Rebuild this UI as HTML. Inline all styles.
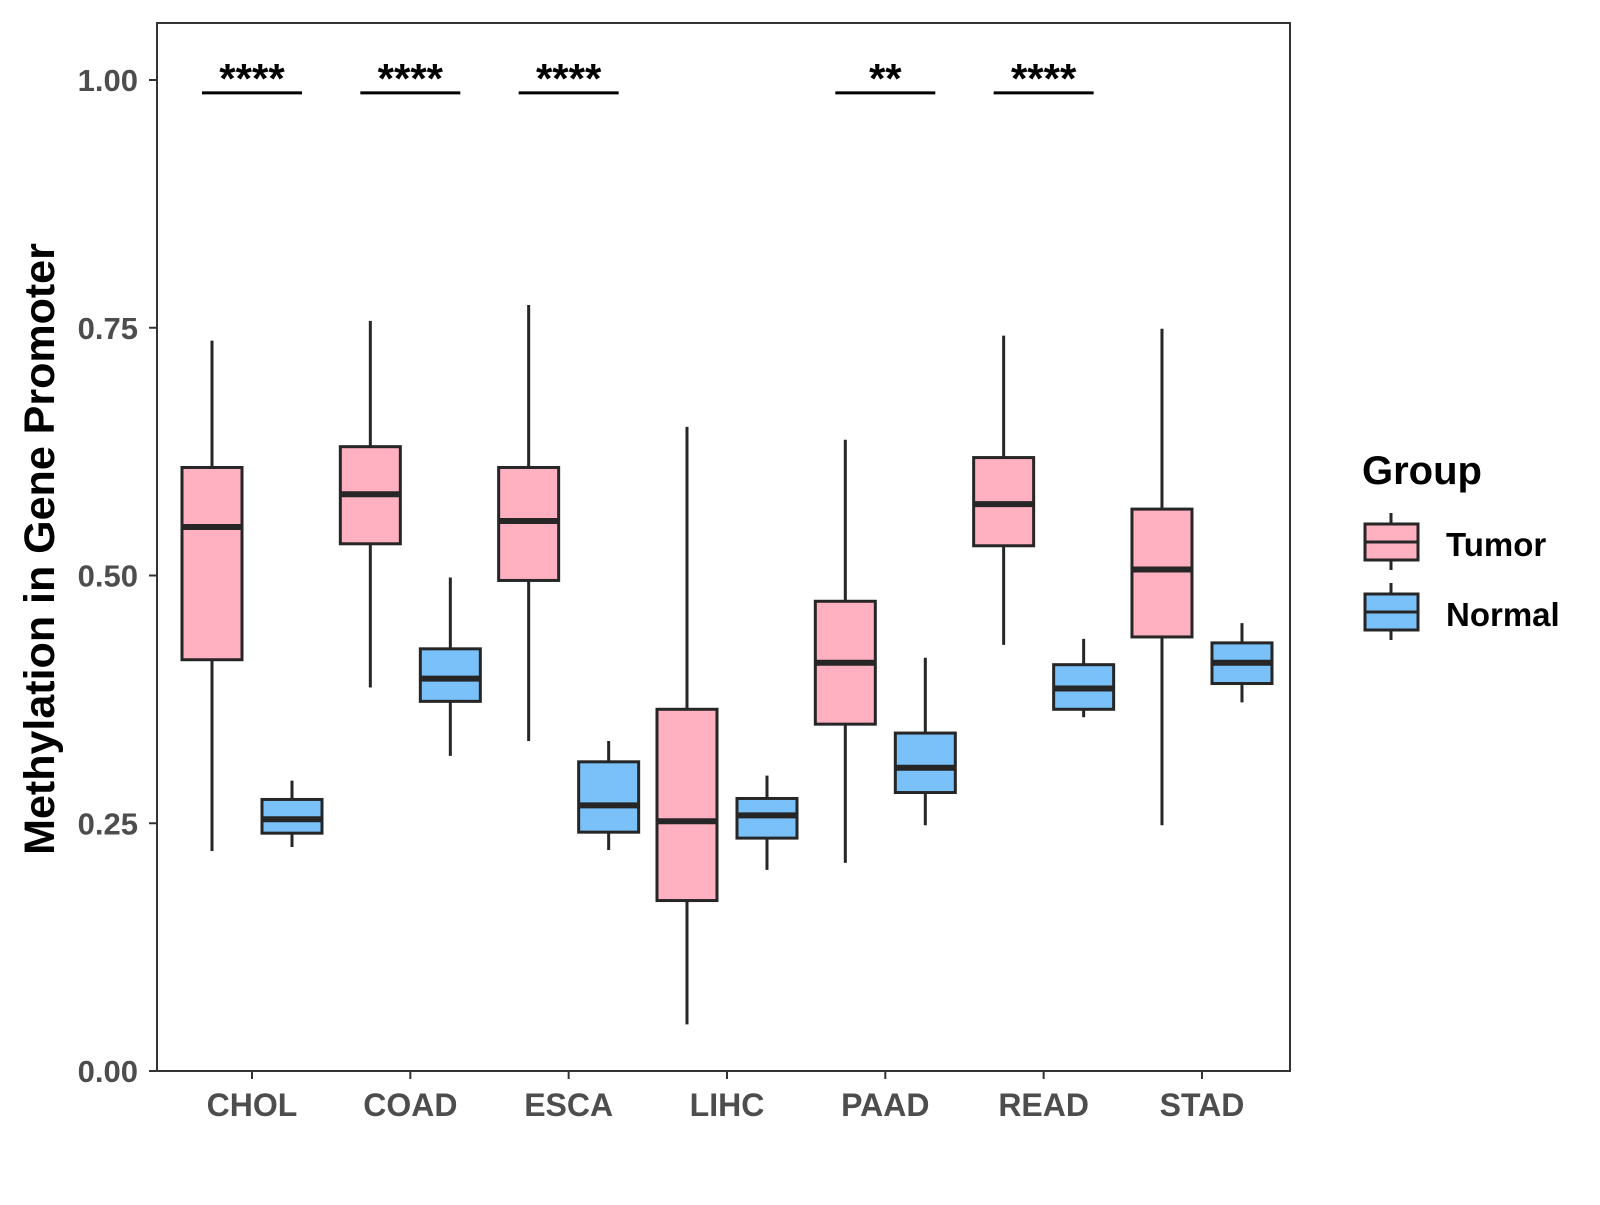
<!DOCTYPE html>
<html><head><meta charset="utf-8"><style>
body{margin:0;background:#fff}
svg text{font-family:"Liberation Sans",Arial,sans-serif;font-weight:bold}
</style></head><body>
<svg id="chart" width="1600" height="1200" xmlns="http://www.w3.org/2000/svg">
<rect x="157" y="23" width="1133" height="1048" fill="#fff" stroke="#333" stroke-width="2"/>
<g id="marks"></g>
<text x="0" y="0" transform="translate(54,549) rotate(-90)" text-anchor="middle" font-size="43" fill="#000">Methylation in Gene Promoter</text>
<g>
<text x="1362" y="484" font-size="40" fill="#000">Group</text>
<g>
<line x1="1391" y1="513" x2="1391" y2="570" stroke="#262626" stroke-width="3"/>
<rect x="1365" y="524" width="53" height="36" fill="#FFB0C1" stroke="#262626" stroke-width="3"/>
<line x1="1365" y1="542" x2="1418" y2="542" stroke="#262626" stroke-width="3"/>
<text x="1446" y="556" font-size="33" fill="#000">Tumor</text></g>
<g>
<line x1="1391" y1="583" x2="1391" y2="640" stroke="#262626" stroke-width="3"/>
<rect x="1365" y="594" width="53" height="36" fill="#79C1F8" stroke="#262626" stroke-width="3"/>
<line x1="1365" y1="612" x2="1418" y2="612" stroke="#262626" stroke-width="3"/>
<text x="1446" y="626" font-size="33" fill="#000">Normal</text></g>
</g>
</svg>
<script>
const categories=["CHOL","COAD","ESCA","LIHC","PAAD","READ","STAD"];
// [lowWhisker, q1, median, q3, highWhisker]
const tumorStats=[[0.222,0.415,0.549,0.609,0.737],[0.387,0.532,0.582,0.630,0.757],[0.333,0.495,0.555,0.609,0.773],[0.047,0.172,0.252,0.365,0.650],[0.210,0.350,0.412,0.474,0.637],[0.430,0.530,0.572,0.619,0.742],[0.248,0.438,0.506,0.567,0.749]];
const normalStats=[[0.226,0.240,0.254,0.274,0.293],[0.318,0.373,0.396,0.426,0.498],[0.223,0.241,0.268,0.312,0.333],[0.203,0.235,0.258,0.275,0.298],[0.248,0.281,0.306,0.341,0.417],[0.357,0.365,0.386,0.410,0.436],[0.372,0.391,0.412,0.432,0.452]];
const signif=["****","****","****","","**","****",""];
const yTicks=[0,0.25,0.5,0.75,1.0];
const yTickLabels=["0.00","0.25","0.50","0.75","1.00"];
const sigLevel=0.987;
const NS="http://www.w3.org/2000/svg";
const g=document.getElementById('marks');
const y=v=>1071-v*991;
const x=i=>252+i*158.33;
function mk(t,a,txt){const e=document.createElementNS(NS,t);for(const k in a)e.setAttribute(k,a[k]);if(txt!==undefined)e.textContent=txt;g.appendChild(e);return e;}
yTicks.forEach((v,i)=>{
 const t=mk('line',{x1:149,x2:157,y1:y(v),y2:y(v),stroke:'#333','stroke-width':2});
 
 
 const l=mk('text',{x:138,y:y(v)+11,'text-anchor':'end','font-size':31,fill:'#4d4d4d'},yTickLabels[i]);
 
 
});
function box(cx,s,fill,name){
 const w=mk('line',{x1:cx,x2:cx,y1:y(s[0]),y2:y(s[4]),stroke:'#262626','stroke-width':3});
 
 
 const r=mk('rect',{x:cx-30,width:60,y:y(s[3]),height:y(s[1])-y(s[3]),fill:fill,stroke:'#262626','stroke-width':3});
 
 
 const m=mk('line',{x1:cx-30,x2:cx+30,y1:y(s[2]),y2:y(s[2]),stroke:'#262626','stroke-width':6});
 
 
}
categories.forEach((c,i)=>{
 const cx=x(i);
 box(cx-40,tumorStats[i],'#FFB0C1','tumor-'+c.toLowerCase());
 box(cx+40,normalStats[i],'#79C1F8','normal-'+c.toLowerCase());
 const t=mk('line',{x1:cx,x2:cx,y1:1071,y2:1079,stroke:'#333','stroke-width':2});
 
 
 const l=mk('text',{x:cx,y:1116,'text-anchor':'middle','font-size':32,fill:'#4d4d4d'},c);
 
 
 if(signif[i]){
  const b=mk('line',{x1:cx-50,x2:cx+50,y1:y(sigLevel),y2:y(sigLevel),stroke:'#000','stroke-width':3});
  
  
  const s=mk('text',{x:cx,y:y(sigLevel),'text-anchor':'middle','font-size':42,fill:'#000'},signif[i]);
  
  
 }
});
</script>
</body></html>
